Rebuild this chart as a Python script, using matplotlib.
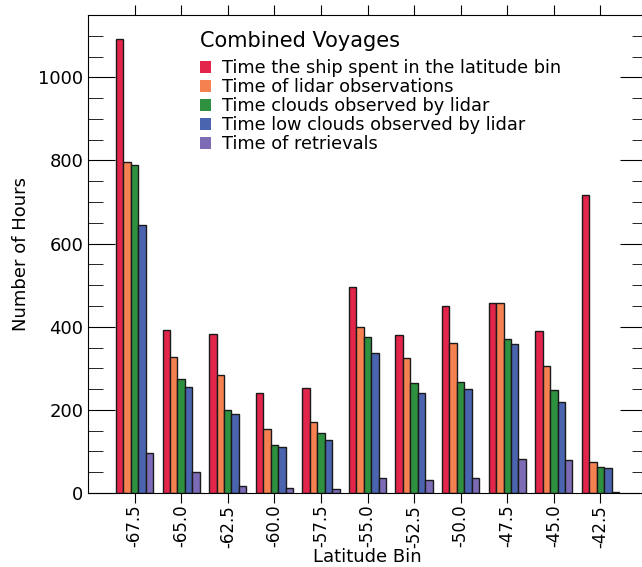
import numpy as np
import matplotlib
matplotlib.use("Agg")
import matplotlib.pyplot as plt
from matplotlib.ticker import MultipleLocator

# Latitude bins and hours for each category
lat_bins = [-67.5, -65.0, -62.5, -60.0, -57.5, -55.0, -52.5, -50.0, -47.5, -45.0, -42.5]
ship_hours = [1093, 391, 383, 240, 253, 495, 380, 449, 458, 389, 718]
lidar_hours = [796, 326, 283, 154, 171, 400, 325, 361, 458, 306, 74]
cloud_hours = [790, 275, 199, 115, 144, 376, 264, 266, 371, 249, 63]
low_cloud_hours = [645, 256, 190, 110, 127, 338, 240, 250, 359, 220, 60]
retrieval_hours = [97, 51, 18, 13, 9, 35, 31, 35, 82, 79, 3]

labels = [
    "Time the ship spent in the latitude bin",
    "Time of lidar observations",
    "Time clouds observed by lidar",
    "Time low clouds observed by lidar",
    "Time of retrievals",
]
colores = ["#e3254b", "#f58150", "#2e9140", "#4a64b0", "#7d6bb5"]
series = [ship_hours, lidar_hours, cloud_hours, low_cloud_hours, retrieval_hours]

fig = plt.figure(figsize=(6.42, 5.67), dpi=100)
ax = fig.add_axes([88 / 642, 74 / 567, 559 / 642, 478 / 567])

x = np.array(lat_bins)
w = 0.4
for i, (vals, lab, col) in enumerate(zip(series, labels, colores)):
    ax.bar(x + (i - 2) * w, vals, w, color=col, edgecolor="#1a1a1a",
           linewidth=1.0, label=lab)

ax.set_xlim(-70, -40)
ax.set_ylim(0, 1150)
ax.set_xticks(lat_bins)
ax.set_xticklabels([f"{v:.1f}" for v in lat_bins], rotation=90, fontsize=12)
ax.yaxis.set_major_locator(MultipleLocator(200))
ax.yaxis.set_minor_locator(MultipleLocator(50))
ax.tick_params(axis="y", which="major", direction="in", length=19.5,
               left=True, right=True, labelsize=13)
ax.tick_params(axis="y", which="minor", direction="in", length=10.5,
               left=True, right=True)
ax.tick_params(axis="x", which="major", direction="out", length=7,
               top=True, bottom=True, pad=1.5)

ax.set_xlabel("Latitude Bin", fontsize=13, labelpad=0)
ax.set_ylabel("Number of Hours", fontsize=13, labelpad=6)

leg = ax.legend(loc="upper left", bbox_to_anchor=(0.2, 0.967), frameon=False,
                fontsize=12.8, title="Combined Voyages", title_fontsize=15,
                alignment="left", borderpad=0, borderaxespad=0,
                handlelength=0.65, handleheight=0.65, handletextpad=0.6,
                labelspacing=0.06)
leg._legend_box.sep = 6
for h in leg.legend_handles:
    h.set_edgecolor("none")

fig.savefig("out.png", dpi=100)
